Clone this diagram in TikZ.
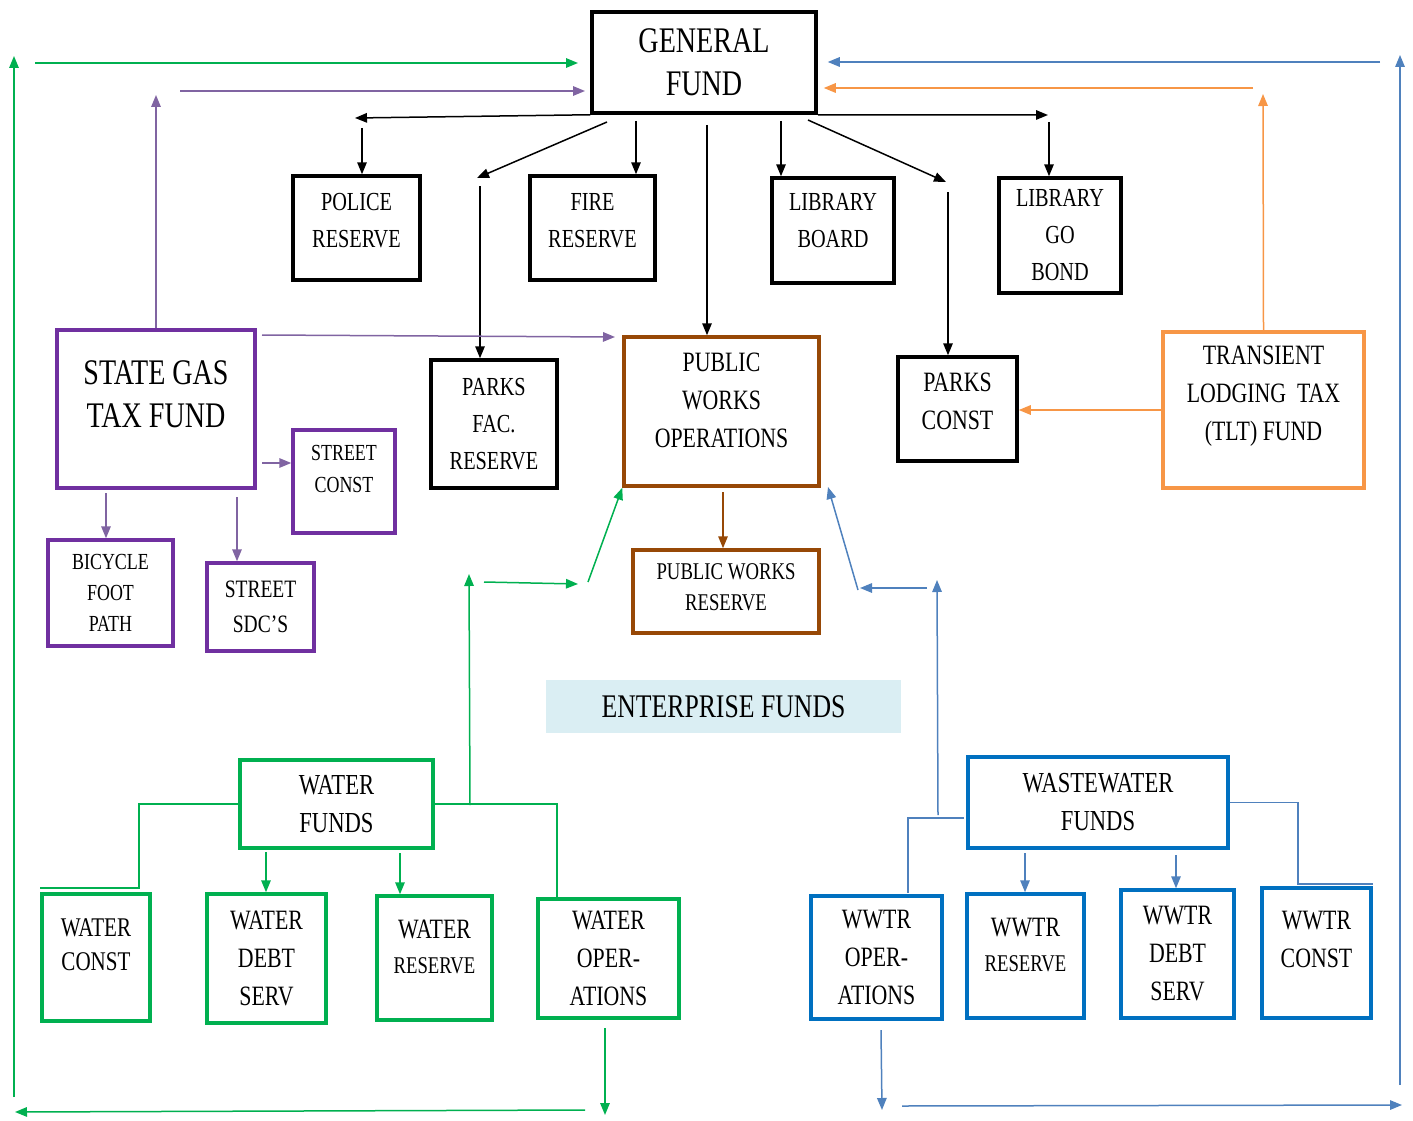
\documentclass[tikz,border=0pt]{standalone}
\usepackage{fontspec}
\setmainfont{Liberation Serif}[FakeStretch=0.78]
\usepackage{xcolor}
\usetikzlibrary{arrows.meta}
\definecolor{fgreen}{HTML}{00B050}
\definecolor{fpurple}{HTML}{7030A0}
\definecolor{apurple}{HTML}{8064A2}
\definecolor{forange}{HTML}{F79646}
\definecolor{fbrown}{HTML}{974806}
\definecolor{fblue}{HTML}{0070C0}
\definecolor{ablue}{HTML}{4F81BD}
\definecolor{entfill}{HTML}{DAEEF3}
\tikzset{
fund/.style={draw, line width=3.5pt, align=center, inner sep=0pt},
lift/.style={text depth=#1},
tbig/.style={font=\fontsize{36}{43}\selectfont},
tmid/.style={font=\fontsize{26}{37}\selectfont},
tlow/.style={font=\fontsize{28}{38}\selectfont},
tsml/.style={font=\fontsize{23}{31}\selectfont},
blk/.style={line width=1.5pt, black},
grn/.style={line width=1.5pt, fgreen},
pur/.style={line width=1.5pt, apurple},
org/.style={line width=1.5pt, forange},
blu/.style={line width=1.5pt, ablue},
brn/.style={line width=1.5pt, fbrown},
}

\begin{document}
\begin{tikzpicture}[x=1pt,y=-1pt,>={Triangle[length=12pt,width=9.5pt]}]
    \useasboundingbox (0,0) rectangle (1413,1121);
    % general fund side
    \node[fund,tbig,minimum width=224pt,minimum height=101pt] (gf) at (704,62.5) {GENERAL\\FUND};
    \node[fund,tmid,lift=15pt,minimum width=127pt,minimum height=104pt] (police) at (356.5,228) {POLICE\\RESERVE};
    \node[fund,tmid,lift=16pt,minimum width=125pt,minimum height=104pt] (fire) at (592.5,228) {FIRE\\RESERVE};
    \node[fund,tmid,lift=21pt,minimum width=122pt,minimum height=105pt] (libb) at (833,230.5) {LIBRARY\\BOARD};
    \node[fund,tmid,minimum width=122pt,minimum height=115pt] (libgo) at (1060,235.5) {LIBRARY\\GO\\BOND};
    \node[fund,tmid,minimum width=126pt,minimum height=128pt] (pfac) at (494,424) {PARKS\\FAC.\\RESERVE};
    \node[fund,tlow,lift=16pt,minimum width=119pt,minimum height=104pt] (pconst) at (957.5,409) {PARKS\\CONST};
    \node[fund,fbrown,text=black,tlow,lift=23pt,minimum width=195pt,minimum height=149pt] (pwops) at (721.5,411.5) {PUBLIC\\WORKS\\OPERATIONS};
    \node[fund,fbrown,text=black,font=\fontsize{24}{31}\selectfont,lift=8pt,minimum width=186pt,minimum height=83pt] (pwres) at (726,591.5) {PUBLIC WORKS\\RESERVE};
    \node[fund,forange,text=black,tlow,lift=33pt,minimum width=201pt,minimum height=156pt] (tlt) at (1263.5,410) {TRANSIENT\\LODGING~~TAX\\(TLT) FUND};
    % state gas tax
    \node[fund,fpurple,text=black,tbig,lift=29pt,minimum width=198pt,minimum height=158pt] (sgt) at (156,409) {STATE GAS\\TAX FUND};
    \node[fund,fpurple,text=black,font=\fontsize{23}{32}\selectfont,lift=25pt,minimum width=102pt,minimum height=103pt] (sconst) at (344,481.5) {STREET\\CONST};
    \node[fund,fpurple,text=black,tsml,minimum width=125pt,minimum height=106pt] (bike) at (110.5,593) {BICYCLE\\FOOT\\PATH};
    \node[fund,fpurple,text=black,font=\fontsize{25}{35}\selectfont,minimum width=107pt,minimum height=88pt] (ssdc) at (260.5,607) {STREET\\SDC'S};
    % enterprise funds
    \node[fill=entfill,font=\fontsize{33}{40}\selectfont,minimum width=355pt,minimum height=53pt] (ent) at (723.5,706.5) {ENTERPRISE FUNDS};
    \node[fund,fgreen,text=black,font=\fontsize{29}{38}\selectfont,minimum width=193pt,minimum height=88pt] (wf) at (336.5,804) {WATER\\FUNDS};
    \node[fund,fgreen,text=black,font=\fontsize{27}{34}\selectfont,lift=25pt,minimum width=108pt,minimum height=127pt] (wcon) at (96,957.5) {WATER\\CONST};
    \node[fund,fgreen,text=black,tlow,minimum width=119pt,minimum height=129pt] (wdebt) at (266.5,958.5) {WATER\\DEBT\\SERV};
    \node[fund,fgreen,text=black,tlow,lift=23pt,minimum width=115pt,minimum height=124pt] (wres) at (434.5,958) {WATER\\[-3pt]{\fontsize{24}{30}\selectfont RESERVE}};
    \node[fund,fgreen,text=black,tlow,minimum width=141pt,minimum height=119pt] (wops) at (608.5,958.5) {WATER\\OPER-\\ATIONS};
    \node[fund,fblue,text=black,font=\fontsize{29}{38}\selectfont,minimum width=260pt,minimum height=91pt] (ww) at (1098,802.5) {WASTEWATER\\FUNDS};
    \node[fund,fblue,text=black,tlow,minimum width=131pt,minimum height=123pt] (tops) at (876.5,957.5) {WWTR\\OPER-\\ATIONS};
    \node[fund,fblue,text=black,tlow,lift=22pt,minimum width=117pt,minimum height=124pt] (tres) at (1025.5,956) {WWTR\\[-3pt]{\fontsize{24}{30}\selectfont RESERVE}};
    \node[fund,fblue,text=black,tlow,minimum width=113pt,minimum height=128pt] (tdebt) at (1177.5,954) {WWTR\\DEBT\\SERV};
    \node[fund,fblue,text=black,tlow,lift=28pt,minimum width=109pt,minimum height=130pt] (tcon) at (1316.5,953) {WWTR\\CONST};

    % loose ends of the connectors
    \coordinate (c1) at (355,118);   \coordinate (c2) at (362,128);
    \coordinate (c3) at (607,122);   \coordinate (c4) at (477,178);
    \coordinate (c5) at (480,186);   \coordinate (c6) at (636,121);
    \coordinate (c7) at (707,125);   \coordinate (c8) at (781,121);
    \coordinate (c9) at (808,120);   \coordinate (c10) at (946,182);
    \coordinate (c11) at (948,192);  \coordinate (c12) at (1048,115);
    \coordinate (c13) at (1049,122);
    \coordinate (p1) at (156,95);    \coordinate (p2) at (180,91);
    \coordinate (p3) at (585,91);    \coordinate (p4) at (262,335);
    \coordinate (p5) at (615,337);   \coordinate (p6) at (262,463);
    \coordinate (p7) at (106,493);   \coordinate (p8) at (237,497);
    \coordinate (b1) at (723,492);
    \coordinate (o1) at (1253,88);   \coordinate (o2) at (1263,94);
    \coordinate (l1) at (1380,62);   \coordinate (l2) at (1400,1085);
    \coordinate (l3) at (1400,55);   \coordinate (l4) at (902,1106);
    \coordinate (l5) at (1402,1105); \coordinate (l6) at (858,590);
    \coordinate (l7) at (828,487);   \coordinate (l8) at (927,588);
    \coordinate (l9) at (860,588);   \coordinate (l10) at (938,815);
    \coordinate (l11) at (937,580);  \coordinate (l12) at (964,818);
    \coordinate (l13) at (908,893);  \coordinate (l14) at (1298,884);
    \coordinate (l15) at (1025,853); \coordinate (l16) at (1176,855);
    \coordinate (l17) at (881,1030); \coordinate (l18) at (882,1110);
    \coordinate (g1) at (14,1097);   \coordinate (g2) at (14,56);
    \coordinate (g3) at (35,63);     \coordinate (g4) at (578,63);
    \coordinate (g5) at (588,582);   \coordinate (g6) at (484,582);
    \coordinate (g7) at (578,584);   \coordinate (g8) at (470,805);
    \coordinate (g9) at (469,574);   \coordinate (g10) at (139,888);
    \coordinate (g11) at (557,897);  \coordinate (g12) at (266,852);
    \coordinate (g13) at (400,853);  \coordinate (g14) at (605,1028);
    \coordinate (g15) at (605,1115); \coordinate (g16) at (585,1110);
    \coordinate (g17) at (15,1112);

    % general fund transfers
    \draw[blk,->] (gf.south west) -- (c1);
    \draw[blk,->] (c2) -- (c2 |- police.north);
    \draw[blk,->] (c3) -- (c4);
    \draw[blk,->] (c5) -- (c5 |- pfac.north);
    \draw[blk,->] (c6) -- (c6 |- fire.north);
    \draw[blk,->] (c7) -- (c7 |- pwops.north);
    \draw[blk,->] (c8) -- (c8 |- libb.north);
    \draw[blk,->] (c9) -- (c10);
    \draw[blk,->] (c11) -- (c11 |- pconst.north);
    \draw[blk,->] (gf.south east) -- (c12);
    \draw[blk,->] (c13) -- (c13 |- libgo.north);

    % state gas tax
    \draw[pur,->] (sgt.north) -- (p1);
    \draw[pur,->] (p2) -- (p3);
    \draw[pur,->] (p4) -- (p5);
    \draw[pur,->] (p6) -- (p6 -| sconst.west);
    \draw[pur,->] (p7) -- (p7 |- bike.north);
    \draw[pur,->] (p8) -- (p8 |- ssdc.north);
    \draw[brn,->] (b1) -- (b1 |- pwres.north);

    % transient lodging tax
    \draw[org,->] (o1) -- ([xshift=6pt]o1 -| gf.east);
    \draw[org,->] (tlt.north) -- (o2);
    \draw[org,->] (tlt.west) -- (tlt.west -| pconst.east);

    % wastewater
    \draw[blu,->] (l1) -- ([xshift=10pt]l1 -| gf.east);
    \draw[blu,->] (l2) -- (l3);
    \draw[blu,->] (l4) -- (l5);
    \draw[blu,->] (l6) -- (l7);
    \draw[blu,->] (l8) -- (l9);
    \draw[blu,->] (l10) -- (l11);
    \draw[blu] (l12) -| (l13);
    \draw[blu] (ww.east) -| (l14) -- (l14 -| tcon.north east);
    \draw[blu,->] (l15) -- (l15 |- tres.north);
    \draw[blu,->] (l16) -- (l16 |- tdebt.north);
    \draw[blu,->] (l17) -- (l18);

    % water
    \draw[grn,->] (g1) -- (g2);
    \draw[grn,->] (g3) -- (g4);
    \draw[grn,->] (g5) -- (pwops.south west);
    \draw[grn,->] (g6) -- (g7);
    \draw[grn,->] (g8) -- (g9);
    \draw[grn] (wf.west) -| (g10) -- (g10 -| wcon.north west);
    \draw[grn] (wf.east) -| (g11);
    \draw[grn,->] (g12) -- (g12 |- wdebt.north);
    \draw[grn,->] (g13) -- (g13 |- wres.north);
    \draw[grn,->] (g14) -- (g15);
    \draw[grn,->] (g16) -- (g17);
\end{tikzpicture}
\end{document}
